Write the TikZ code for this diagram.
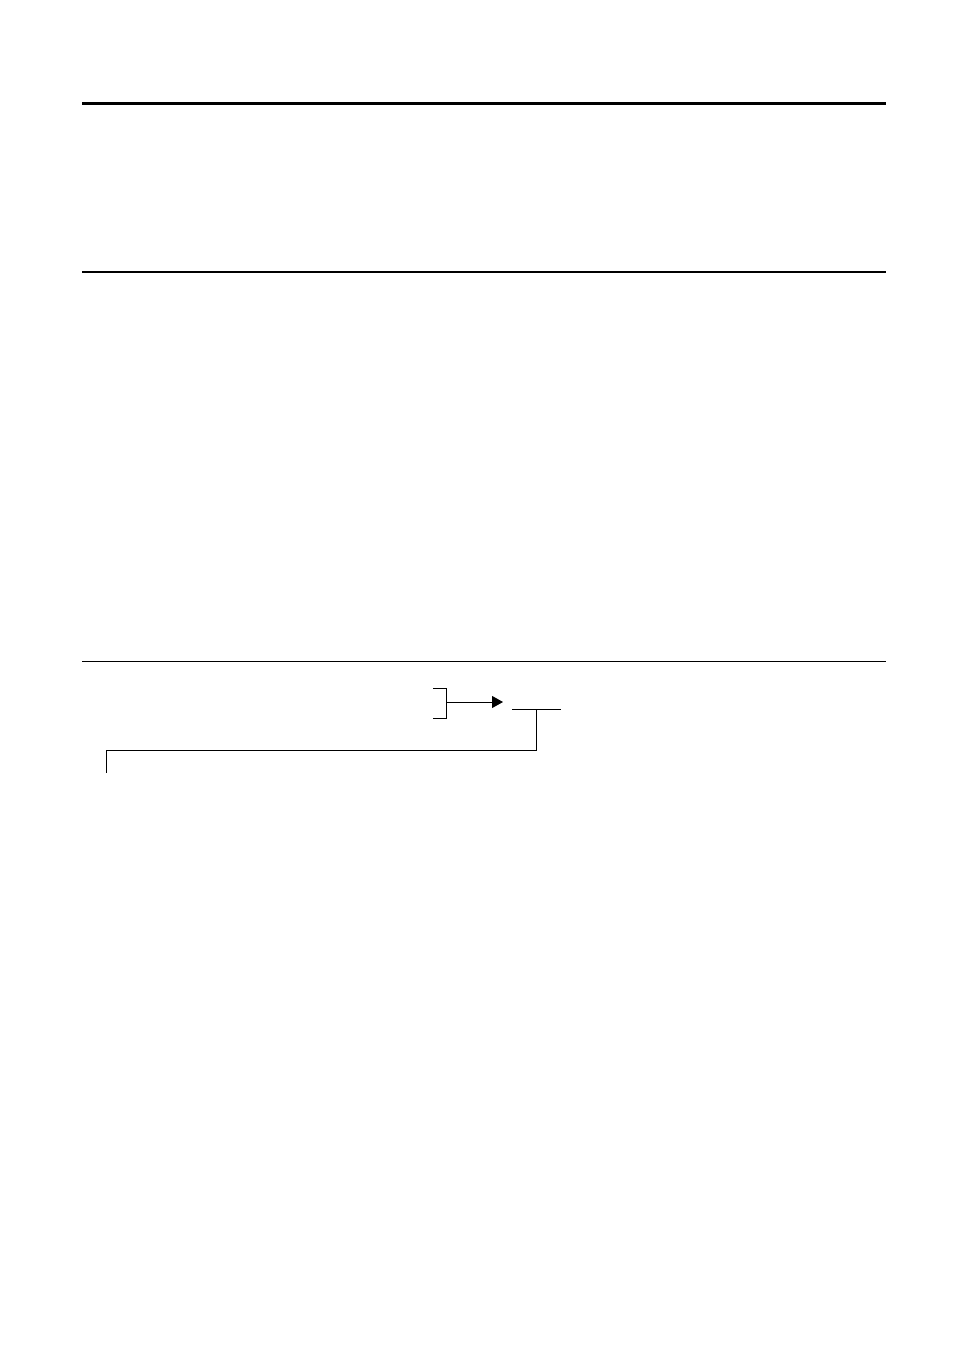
\documentclass[tikz,border=0pt]{standalone}
\usetikzlibrary{arrows.meta}
\begin{document}
\begin{tikzpicture}[x=1pt,y=-1pt,
  rule/.style={line width=#1, draw=black},
  thin line/.style={line width=1pt, draw=black},
  flowarrow/.style={thin line, -{Triangle[length=11pt,width=12pt]}}]
\useasboundingbox[fill=white] (0,0) rectangle (954,1351);
% horizontal rules
\draw[rule=3pt] (82,103.5) -- (886,103.5);
\draw[rule=2pt] (82,272) -- (886,272);
\draw[rule=1pt] (82,661.5) -- (886,661.5);
% bracket
\coordinate (bt) at (446.7,688);
\coordinate (bb) at (446.7,718);
\coordinate (bm) at (446.7,702);
\draw[thin line] (433.3,688) -- (bt) -- (bb) -- (433.3,718);
% arrow
\coordinate (tip) at (503,702);
\draw[flowarrow] (bm) -- (tip);
% tee line and return path
\coordinate (tl) at (512.3,709.5);
\coordinate (tr) at (560.7,709.5);
\coordinate (tj) at (536.7,709.5);
\coordinate (c1) at (536.7,750);
\coordinate (c2) at (106,750);
\coordinate (c3) at (106,773);
\draw[thin line] (tl) -- (tr);
\draw[thin line] (tj) -- (c1) -- (c2) -- (c3);
\end{tikzpicture}
\end{document}
